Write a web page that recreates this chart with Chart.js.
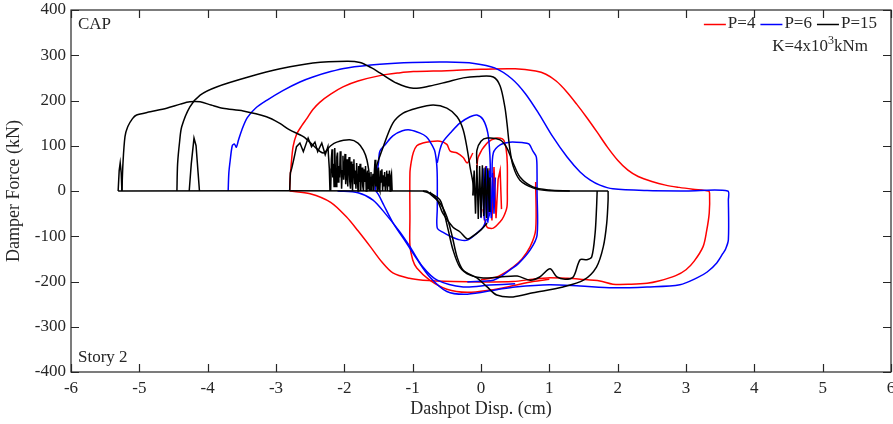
<!DOCTYPE html>
<html>
<head>
<meta charset="utf-8">
<script src="https://cdn.jsdelivr.net/npm/chart.js@4.4.1/dist/chart.umd.min.js"></script>
<style>
  body { margin: 0; background: #fff; }
  canvas { display: block; }
</style>
</head>
<body>
<canvas id="hysteresis" width="893" height="424"></canvas>
<script>
// axis ticks
const xTickValues = [-6, -5, -4, -3, -2, -1, 0, 1, 2, 3, 4, 5, 6];
const yTickValues = [-400, -300, -200, -100, 0, 100, 200, 300, 400];

// P=4 (red) - [disp cm, force kN]
const p4Outer = [[-2.8,0],[-2.795,25],[-2.78,54],[-2.75,98],[-2.7,125],[-2.62,145],[-2.55,160],[-2.46,180],[-2.36,196],[-2.2,214],[-2.02,230],[-1.8,243],[-1.48,255],[-1.2,261],[-0.99,264],[-0.5,266],[0,269],[0.5,270],[0.8,265],[0.95,258],[1.1,243],[1.25,220],[1.4,192],[1.55,162],[1.7,130],[1.85,97],[2.0,68],[2.15,46],[2.3,32],[2.5,21],[2.7,13],[2.9,8],[3.1,4],[3.33,0],[3.345,-5],[3.34,-49],[3.3,-90],[3.25,-123],[3.12,-155],[3.0,-174],[2.85,-187],[2.6,-199],[2.43,-204],[2.2,-206],[1.93,-206],[1.74,-199],[1.45,-195],[1.26,-193],[0.97,-192],[0.76,-195],[0.47,-200],[0.0,-201],[-0.4,-200],[-0.85,-197],[-1.05,-193],[-1.29,-181],[-1.45,-157],[-1.62,-123],[-1.8,-88],[-1.97,-57],[-2.2,-25],[-2.5,-6],[-2.8,0]];
const p4Inner = [[-0.12,84],[-0.2,62],[-0.26,74],[-0.35,84],[-0.45,88],[-0.5,103],[-0.6,110],[-0.75,109],[-0.85,106],[-0.94,100],[-0.99,85],[-1.02,65],[-1.04,40],[-1.04,-60],[-1.04,-120],[-1.0,-152],[-0.94,-170],[-0.75,-197],[-0.5,-217],[-0.2,-224],[0.13,-219],[0.42,-211],[0.76,-200],[1.0,-195]];
const p4Center = [[-0.06,50],[-0.04,75],[0.09,106],[0.23,117],[0.33,113],[0.37,90],[0.385,60],[0.385,0],[0.38,-35],[0.33,-57],[0.28,-68],[0.18,-82],[0.09,-80],[0.05,-60],[0.03,-40]];
const p4Return = [[0.8,20],[0.8,-86],[0.72,-123],[0.6,-150],[0.47,-168],[0.3,-185],[0.23,-190],[0.0,-196]];
const p4Noise = [[0.05,-50],[0.07,55],[0.1,-60],[0.13,50],[0.16,-65],[0.19,53],[0.22,-60],[0.25,25],[0.28,46],[0.3,-40]];

// P=6 (blue)
const p6Outer = [[-3.7,0],[-3.69,40],[-3.67,68],[-3.64,100],[-3.61,104],[-3.58,97],[-3.55,112],[-3.5,135],[-3.42,162],[-3.3,183],[-3.13,201],[-2.9,222],[-2.65,241],[-2.46,252],[-2.2,264],[-1.96,272],[-1.48,280],[-1.0,284],[-0.5,285],[-0.1,282],[0.2,272],[0.45,248],[0.65,215],[0.85,170],[1.05,120],[1.26,75],[1.45,42],[1.6,24],[1.74,13],[1.93,5],[2.43,1],[3.0,0],[3.61,0],[3.62,-20],[3.62,-108],[3.58,-128],[3.54,-138],[3.45,-159],[3.31,-179],[3.16,-192],[2.91,-207],[2.43,-212],[1.93,-214],[1.45,-210],[1.0,-207],[0.5,-212],[0.23,-218],[-0.2,-228],[-0.5,-222],[-0.75,-190],[-0.94,-150],[-1.1,-113],[-1.29,-70],[-1.42,-32],[-1.5,-8],[-1.54,0]];
const p6Lower = [[-2.1,0],[-1.8,-4],[-1.58,-20],[-1.4,-50],[-1.19,-90],[-1.04,-123],[-0.85,-168],[-0.64,-197],[-0.26,-212],[0.13,-208],[0.5,-205]];
const p6Inner = [[-1.55,0],[-1.53,30],[-1.5,62],[-1.48,88],[-1.4,103],[-1.29,122],[-1.15,133],[-1.04,135],[-0.89,128],[-0.8,120],[-0.75,110],[-0.68,90],[-0.65,62],[-0.64,30],[-0.64,-40],[-0.64,-82],[-0.56,-91],[-0.45,-100],[-0.31,-108],[-0.19,-108],[-0.06,-93],[0.03,-80],[0.08,-62]];
const p6Arch = [[-0.64,62],[-0.6,92],[-0.56,108],[-0.45,128],[-0.31,150],[-0.16,164],[-0.06,168],[0.03,158],[0.1,128],[0.13,80],[0.14,20],[0.14,-40],[0.1,-65]];
const p6Return = [[0.16,30],[0.18,84],[0.28,102],[0.42,108],[0.6,107],[0.7,104],[0.76,88],[0.81,75],[0.82,40],[0.82,0],[0.82,-98],[0.72,-130],[0.55,-160],[0.42,-175],[0.3,-188],[0.18,-197],[-0.2,-201]];
const p6Noise = [[0.0,-60],[0.03,50],[0.05,-65],[0.08,55],[0.1,-70],[0.12,45],[0.15,-60],[0.17,40],[0.19,-50],[0.21,30]];

// P=15 (black)
const p15Spike = [[-5.31,0],[-5.295,45],[-5.28,62],[-5.265,40],[-5.255,0]];
const p15Outer = [[-5.31,0],[-0.8,0],[-0.75,-6],[-0.6,-27],[-0.5,-57],[-0.42,-101],[-0.35,-146],[-0.26,-175],[-0.06,-192],[0.09,-212],[0.23,-230],[0.47,-234],[0.76,-225],[1.2,-212],[1.5,-197],[1.69,-168],[1.79,-123],[1.84,-71],[1.86,-20],[1.86,0]];
const p15Arch = [[-5.255,0],[-5.24,60],[-5.21,120],[-5.17,142],[-5.1,160],[-5.04,168],[-4.84,175],[-4.6,183],[-4.4,192],[-4.26,197],[-4.11,197],[-3.95,190],[-3.78,183],[-3.48,177],[-3.14,164],[-2.95,150],[-2.8,135],[-2.6,120],[-2.45,100],[-2.31,84],[-2.2,100],[-2.11,108],[-1.92,113],[-1.8,106],[-1.72,90],[-1.67,69],[-1.63,30],[-1.62,0]];
const p15Hump = [[-4.27,0],[-4.24,60],[-4.2,117],[-4.17,100],[-4.14,40],[-4.12,0]];
const p15Top = [[-4.45,0],[-4.44,60],[-4.41,110],[-4.38,142],[-4.26,186],[-4.11,212],[-3.87,230],[-3.38,253],[-2.94,270],[-2.46,283],[-1.96,287],[-1.77,284],[-1.6,272],[-1.48,261],[-1.23,238],[-0.99,227],[-0.75,232],[-0.5,241],[-0.26,250],[-0.05,253],[0.18,252],[0.28,232],[0.35,185],[0.38,150],[0.42,95],[0.47,55],[0.57,24],[0.76,7],[0.96,1],[1.3,0],[1.86,0]];
const p15Inner = [[-1.58,0],[-1.55,30],[-1.53,54],[-1.43,98],[-1.29,150],[-1.14,172],[-0.94,183],[-0.7,190],[-0.5,183],[-0.35,164],[-0.26,135],[-0.2,91],[-0.16,53],[-0.12,20],[-0.1,-10]];
const p15Lower = [[-0.85,0],[-0.7,-8],[-0.6,-20],[-0.56,-35],[-0.48,-86],[-0.41,-130],[-0.31,-168],[-0.16,-186],[0.03,-192],[0.28,-190],[0.53,-188],[0.72,-197],[0.86,-190],[1.01,-172],[1.11,-190],[1.23,-195],[1.35,-190],[1.45,-152],[1.55,-152],[1.62,-146],[1.67,-93],[1.69,-40],[1.7,0]];
const p15Trough = [[-0.75,-2],[-0.64,-20],[-0.56,-49],[-0.41,-80],[-0.31,-90],[-0.2,-106],[-0.12,-100],[0.0,-86],[0.09,-71]];
const p15Small = [[-0.06,60],[-0.06,90],[0.0,110],[0.09,117],[0.28,113],[0.38,95],[0.47,62],[0.57,31],[0.76,9],[1.0,2],[1.3,0]];
const p15Wiggle = [[-2.8,0],[-2.79,40],[-2.77,50],[-2.74,70],[-2.7,98],[-2.65,106],[-2.6,87],[-2.53,117],[-2.48,98],[-2.43,108],[-2.39,87],[-2.33,106],[-2.28,80],[-2.24,98],[-2.22,50],[-2.21,0]];
const p15Noise = [[-2.2,0],[-2.19,70],[-2.18,92],[-2.17,30],[-2.16,60],[-2.15,10],[-2.14,95],[-2.13,40],[-2.12,10],[-2.11,75],[-2.1,85],[-2.09,20],[-2.08,55],[-2.07,30],[-2.06,88],[-2.05,60],[-2.04,5],[-2.03,45],[-2.02,78],[-2.01,25],[-2.0,50],[-1.99,82],[-1.98,15],[-1.97,35],[-1.96,70],[-1.95,10],[-1.94,60],[-1.93,75],[-1.92,20],[-1.91,5],[-1.9,65],[-1.89,40],[-1.88,0],[-1.87,58],[-1.86,70],[-1.85,15],[-1.84,45],[-1.83,5],[-1.82,62],[-1.81,30],[-1.8,0],[-1.79,55],[-1.78,20],[-1.77,60],[-1.76,0],[-1.75,40],[-1.74,52],[-1.73,10],[-1.72,0],[-1.71,48],[-1.7,20],[-1.69,55],[-1.68,0],[-1.67,35],[-1.66,45],[-1.65,5],[-1.64,40],[-1.63,0],[-1.62,30],[-1.61,42],[-1.6,0],[-1.59,25],[-1.58,38],[-1.57,0],[-1.56,45],[-1.55,69],[-1.54,10],[-1.53,50],[-1.52,0],[-1.51,40],[-1.5,52],[-1.49,5],[-1.48,0],[-1.47,45],[-1.46,20],[-1.45,48],[-1.44,0],[-1.43,35],[-1.42,10],[-1.41,42],[-1.4,0],[-1.39,30],[-1.38,45],[-1.37,0],[-1.36,38],[-1.35,10],[-1.34,45],[-1.33,0],[-1.32,30],[-1.31,38],[-1.3,0]];
const p15Center = [[-0.12,-10],[-0.1,45],[-0.08,-50],[-0.06,58],[-0.04,-62],[-0.02,55],[0.0,-58],[0.02,57],[0.04,-55],[0.06,52],[0.08,-60],[0.1,50],[0.12,-45],[0.13,30]];

const series = [
    { label: 'P=4', color: '#ff0000', smooth: [p4Outer, p4Inner, p4Center, p4Return], rough: [p4Noise] },
    { label: 'P=6', color: '#0000ff', smooth: [p6Outer, p6Lower, p6Inner, p6Arch, p6Return], rough: [p6Noise] },
    { label: 'P=15', color: '#000000', smooth: [p15Outer, p15Arch, p15Top, p15Inner, p15Lower, p15Trough, p15Small], rough: [p15Spike, p15Hump, p15Wiggle, p15Noise, p15Center] }
];

const axisColor = '#262626';
const serif = '"Liberation Serif", "Times New Roman", serif';

const datasets = [];
series.forEach((s, i) => {
    const add = (seg, tension) => {
        datasets.push({
            label: s.label,
            data: seg.map(p => ({ x: p[0], y: p[1] })),
            borderColor: s.color,
            borderWidth: 1.5,
            pointRadius: 0,
            showLine: true,
            tension: tension,
            order: series.length - i
        });
    };
    s.smooth.forEach(seg => add(seg, 0.3));
    s.rough.forEach(seg => add(seg, 0));
});

// box, inward ticks and the text inside the axes
const frame = {
    id: 'frame',
    afterDraw(chart) {
        const { ctx, chartArea: a, scales: { x, y } } = chart;
        ctx.save();
        ctx.strokeStyle = axisColor;
        ctx.lineWidth = 1.2;
        ctx.strokeRect(a.left, a.top, a.right - a.left, a.bottom - a.top);
        ctx.beginPath();
        x.ticks.forEach(t => {
            const px = Math.round(x.getPixelForValue(t.value)) + 0.5;
            ctx.moveTo(px, a.bottom); ctx.lineTo(px, a.bottom - 8);
            ctx.moveTo(px, a.top); ctx.lineTo(px, a.top + 8);
        });
        y.ticks.forEach(t => {
            const py = Math.round(y.getPixelForValue(t.value)) + 0.5;
            ctx.moveTo(a.left, py); ctx.lineTo(a.left + 8, py);
            ctx.moveTo(a.right, py); ctx.lineTo(a.right - 8, py);
        });
        ctx.stroke();

        ctx.fillStyle = axisColor;
        ctx.font = '17px ' + serif;
        ctx.textBaseline = 'middle';
        ctx.textAlign = 'left';
        ctx.fillText('CAP', a.left + 7, a.top + 15);
        ctx.fillText('Story 2', a.left + 7, a.bottom - 14);

        // legend, right aligned
        const lineLen = 22, textGap = 2, itemGap = 5;
        const parts = series.map(s => ({ s, w: ctx.measureText(s.label).width }));
        const total = parts.reduce((sum, p) => sum + lineLen + textGap + p.w, 0) + itemGap * (parts.length - 1);
        let lx = 877 - total;
        const ly = 24;
        parts.forEach(p => {
            ctx.strokeStyle = p.s.color;
            ctx.lineWidth = 1.5;
            ctx.beginPath();
            ctx.moveTo(lx, ly + 0.5); ctx.lineTo(lx + lineLen, ly + 0.5);
            ctx.stroke();
            ctx.fillText(p.s.label, lx + lineLen + textGap, ly);
            lx += lineLen + textGap + p.w + itemGap;
        });

        // K=4x10^3kNm
        const base = 'K=4x10', sup = '3', unit = 'kNm';
        const wBase = ctx.measureText(base).width;
        const wUnit = ctx.measureText(unit).width;
        ctx.font = '12px ' + serif;
        const wSup = ctx.measureText(sup).width;
        let kx = 868 - (wBase + wSup + wUnit);
        const ky = 47;
        ctx.font = '17px ' + serif;
        ctx.fillText(base, kx, ky);
        ctx.font = '12px ' + serif;
        ctx.fillText(sup, kx + wBase, ky - 6);
        ctx.font = '17px ' + serif;
        ctx.fillText(unit, kx + wBase + wSup, ky);
        ctx.restore();
    }
};

new Chart(document.getElementById('hysteresis'), {
    type: 'scatter',
    data: { datasets: datasets },
    options: {
        responsive: false,
        animation: false,
        layout: { padding: { left: 0, right: 2, top: 10, bottom: 0 } },
        plugins: { legend: { display: false }, tooltip: { enabled: false } },
        scales: {
            x: {
                type: 'linear', min: -6, max: 6,
                afterBuildTicks: s => { s.ticks = xTickValues.map(v => ({ value: v })); },
                afterFit: s => { s.height = 52; s.paddingLeft = 0; s.paddingRight = 0; },
                ticks: { autoSkip: false, maxRotation: 0, padding: 6, color: axisColor, font: { family: serif, size: 17 } },
                grid: { display: false, drawTicks: false },
                border: { display: false },
                title: { display: true, text: 'Dashpot Disp. (cm)', color: axisColor, font: { family: serif, size: 18 }, padding: { top: 0, bottom: 4 } }
            },
            y: {
                type: 'linear', min: -400, max: 400,
                afterBuildTicks: s => { s.ticks = yTickValues.map(v => ({ value: v })); },
                afterFit: s => { s.width = 71; s.paddingTop = 0; s.paddingBottom = 0; },
                ticks: { autoSkip: false, padding: 5, color: axisColor, font: { family: serif, size: 17 } },
                grid: { display: false, drawTicks: false },
                border: { display: false },
                title: { display: true, text: 'Damper Force (kN)', color: axisColor, font: { family: serif, size: 18 }, padding: { top: 3, bottom: 0 } }
            }
        }
    },
    plugins: [frame]
});
</script>
</body>
</html>
